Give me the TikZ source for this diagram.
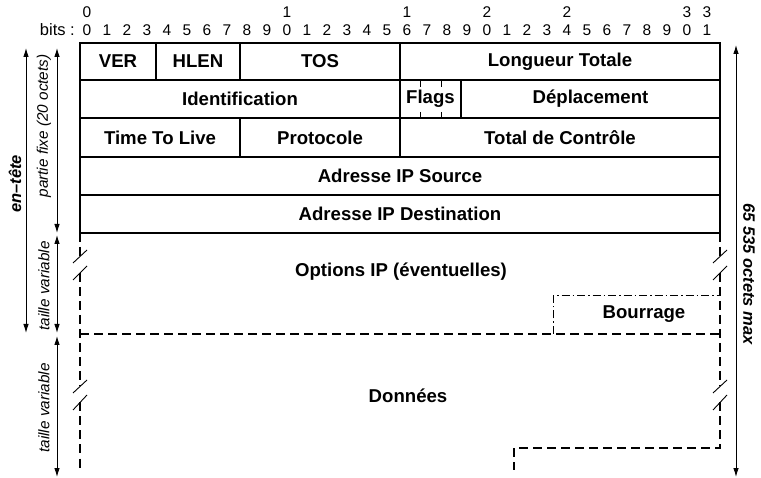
\documentclass[tikz,border=0pt]{standalone}
\usepackage{fontspec}
\setmainfont{Liberation Sans}
\usetikzlibrary{arrows.meta}
\begin{document}
\begin{tikzpicture}[x=1pt,y=-1pt,
  frame/.style={line width=1.1pt,black},
  dsh/.style={line width=1.1pt,dash pattern=on 9pt off 5pt},
  dshdot/.style={line width=1pt,dash pattern=on 8pt off 3pt on 1.5pt off 3pt},
  brk/.style={line width=0.9pt},
  dim/.style={line width=0.9pt,{Latex[length=9pt,width=5.5pt]}-{Latex[length=9pt,width=5.5pt]}},
  lbl/.style={font=\fontsize{18.6}{20}\selectfont\bfseries,inner sep=0pt},
  bitlbl/.style={font=\fontsize{15.5}{17}\selectfont,inner sep=0pt,anchor=base},
  sidelbl/.style={font=\fontsize{15.3}{17}\selectfont\itshape,inner sep=0pt,rotate=90},
  boldside/.style={font=\fontsize{16.5}{18}\selectfont\bfseries\itshape,inner sep=0pt}]
\useasboundingbox (0,0) rectangle (761,478);

% bit numbers
\node[bitlbl,anchor=base east,font=\fontsize{16.5}{18}\selectfont] (bits) at (75,36) {bits :};
\foreach \i in {0,...,31}{
  \pgfmathtruncatemacro\u{mod(\i,10)}
  \node[bitlbl] (b\i) at (87+20*\i,36) {\u};
}
\foreach \i/\d in {0/0,10/1,16/1,20/2,24/2,30/3,31/3}{
  \node[bitlbl] (t\i) at (87+20*\i,18) {\d};
}

% fixed header
\draw[frame] (80,43) rectangle (720,233);
\foreach \y in {80,118,157,195}{\draw[frame] (80,\y) -- (720,\y);}
\draw[frame] (156,43) -- (156,80);
\draw[frame] (240,43) -- (240,80);
\draw[frame] (400,43) -- (400,157);
\draw[frame] (461,80) -- (461,118);
\draw[frame] (240,118) -- (240,157);
\foreach \x in {420,441}{
  \draw[line width=0.8pt] (\x,81) -- (\x,87);
  \draw[line width=0.8pt] (\x,112) -- (\x,118);
}

\node[lbl] (ver) at (118,61.5) {VER};
\node[lbl] (hlen) at (198,61.5) {HLEN};
\node[lbl] (tos) at (320,61.5) {TOS};
\node[lbl] (lt) at (560,61.5) {Longueur Totale};
\node[lbl] (id) at (240,99) {Identification};
\node[lbl] (flags) at (430.5,99) {Flags};
\node[lbl] (depl) at (590.5,99) {Déplacement};
\node[lbl] (ttl) at (160,137.5) {Time To Live};
\node[lbl] (proto) at (320,137.5) {Protocole};
\node[lbl] (tdc) at (560,137.5) {Total de Contrôle};
\node[lbl] (src) at (400,176) {Adresse IP Source};
\node[lbl] (dst) at (400,214) {Adresse IP Destination};

% options and data
\foreach \x in {80,720}{
  \draw[dsh] (\x,233) -- (\x,256.5);
  \draw[dsh] (\x,273) -- (\x,386.5);
  \draw[brk] (\x-7,263) -- (\x+7,250);
  \draw[brk] (\x-7,280) -- (\x+7,266);
  \draw[brk] (\x-7,393) -- (\x+7,380);
  \draw[brk] (\x-7,410) -- (\x+7,395);
}
\draw[dsh] (80,402.5) -- (80,470);
\draw[dsh] (720,402.5) -- (720,448) -- (514,448) -- (514,470);
\draw[dsh] (80,334) -- (720,334);
\draw[dshdot] (553,334) -- (553,296) -- (720,296);

\node[lbl] (opt) at (401,272) {Options IP (éventuelles)};
\node[lbl] (bour) at (644,314.5) {Bourrage};
\node[lbl] (data) at (408,396) {Données};

% dimension arrows
\coordinate (eT) at (26,48);   \coordinate (eB) at (26,333);
\coordinate (pT) at (57,48);   \coordinate (pB) at (57,233);
\coordinate (vT) at (57,235);  \coordinate (vB) at (57,333);
\coordinate (dT) at (57,336);  \coordinate (dB) at (57,477);
\coordinate (mT) at (736,45);  \coordinate (mB) at (736,477);
\draw[dim] (eT) -- (eB);
\draw[dim] (pT) -- (pB);
\draw[dim] (vT) -- (vB);
\draw[dim] (dT) -- (dB);
\draw[dim] (mT) -- (mB);

\node[boldside,rotate=90] (entete) at (15,184) {en–tête};
\node[sidelbl] (fixe) at (44,126) {partie fixe (20 octets)};
\node[sidelbl] (tv1) at (44,286) {taille variable};
\node[sidelbl] (tv2) at (44,408) {taille variable};
\node[boldside,rotate=-90] (max) at (749,274) {65 535 octets max};
\end{tikzpicture}
\end{document}
